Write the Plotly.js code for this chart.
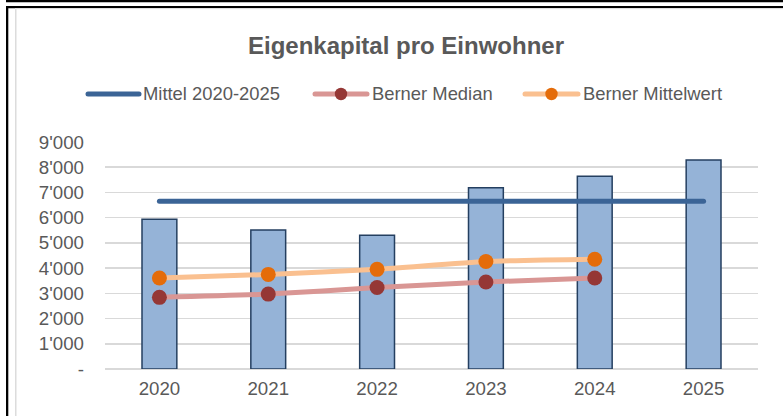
<!DOCTYPE html>
<html>
<head>
<meta charset="utf-8">
<script src="https://cdn.plot.ly/plotly-3.0.1.min.js"></script>
<style>
html,body{margin:0;padding:0;background:#fff;}
#chart{width:783px;height:416px;}
</style>
</head>
<body>
<div id="chart"></div>
<script>
// ---- data ----
const years = ["2020", "2021", "2022", "2023", "2024", "2025"];
const eigenkapital = [5940, 5510, 5300, 7190, 7640, 8290];
const mittel = [6650, 6650, 6650, 6650, 6650, 6650];
const bernerMedian = [2840, 2970, 3230, 3450, 3610];
const bernerMittelwert = [3610, 3750, 3950, 4260, 4350];
const yTickVals = [0, 1000, 2000, 3000, 4000, 5000, 6000, 7000, 8000, 9000];
const yTickText = ["-", "1'000", "2'000", "3'000", "4'000", "5'000", "6'000", "7'000", "8'000", "9'000"];
const seriesNames = ["Mittel 2020-2025", "Berner Median", "Berner Mittelwert"];

// ---- layout geometry ----
const WIDTH = 783, HEIGHT = 416;
const M = {l: 105, r: 25, t: 142, b: 47};
const PW = WIDTH - M.l - M.r, PH = HEIGHT - M.t - M.b;
const px = x => (x - M.l) / PW;
const py = y => (HEIGHT - M.b - y) / PH;

const FONT = '"Liberation Sans", Arial, sans-serif';
const TXT = '#595959';
const C_BAR = '#95B3D7', C_BAR_LINE = '#243F60';
const C_MITTEL = '#3B6496';
const C_MED_LINE = '#D99694', C_MED_MK = '#953735';
const C_MW_LINE = '#FAC090', C_MW_MK = '#E46C0A';

const traces = [
  {
    type: 'bar', x: years, y: eigenkapital, name: 'Eigenkapital',
    marker: {color: C_BAR, line: {color: C_BAR_LINE, width: 1.5}},
    showlegend: false, hoverinfo: 'x+y'
  },
  {
    type: 'scatter', mode: 'lines', x: years, y: mittel, name: seriesNames[0],
    line: {color: C_MITTEL, width: 5}, showlegend: false
  },
  {
    type: 'scatter', mode: 'lines+markers', x: years.slice(0, bernerMedian.length), y: bernerMedian, name: seriesNames[1],
    line: {color: C_MED_LINE, width: 5, shape: 'spline', smoothing: 0.6},
    marker: {color: C_MED_MK, size: 15, line: {width: 0}}, showlegend: false
  },
  {
    type: 'scatter', mode: 'lines+markers', x: years.slice(0, bernerMittelwert.length), y: bernerMittelwert, name: seriesNames[2],
    line: {color: C_MW_LINE, width: 5, shape: 'spline', smoothing: 0.6},
    marker: {color: C_MW_MK, size: 15, line: {width: 0}}, showlegend: false
  }
];

// frame shapes (pixel geometry -> paper)
function rectPx(x0, y0, x1, y1, color) {
  return {type: 'rect', xref: 'paper', yref: 'paper', x0: px(x0), x1: px(x1), y0: py(y1), y1: py(y0),
          fillcolor: color, line: {width: 0}, layer: 'below'};
}
const shapes = [
  rectPx(6, 0, WIDTH, 2.2, '#000'),
  rectPx(6, 6, WIDTH, 8.2, '#000'),
  rectPx(6, 6, 8.3, HEIGHT, '#000'),
  rectPx(15, 8.2, 16.5, HEIGHT, '#DCDCDC'),
  rectPx(15, 8.2, WIDTH, 9.3, '#E6E6E6')
];

// legend (custom, to match symbol lengths)
const legendItems = [
  {x0: 88, x1: 139, tx: 142, line: C_MITTEL, mk: null},
  {x0: 315, x1: 367, tx: 371, line: C_MED_LINE, mk: C_MED_MK},
  {x0: 525, x1: 578, tx: 582, line: C_MW_LINE, mk: C_MW_MK}
];
const LY = 94;
const annotations = [];
legendItems.forEach((it, i) => {
  shapes.push({type: 'line', xref: 'paper', yref: 'paper', x0: px(it.x0), x1: px(it.x1), y0: py(LY), y1: py(LY),
               line: {color: it.line, width: 5}, name: 'legline'});
  if (it.mk) {
    const cx = (it.x0 + it.x1) / 2, r = 6.2;
    shapes.push({type: 'circle', xref: 'paper', yref: 'paper', x0: px(cx - r), x1: px(cx + r), y0: py(LY + r), y1: py(LY - r),
                 fillcolor: it.mk, line: {width: 0}});
  }
  annotations.push({xref: 'paper', yref: 'paper', x: px(it.tx), y: py(LY), xanchor: 'left', yanchor: 'middle',
                    text: seriesNames[i], showarrow: false, borderpad: 0,
                    font: {family: FONT, size: 18.4, color: TXT}});
});

const layout = {
  width: WIDTH, height: HEIGHT,
  margin: M,
  paper_bgcolor: '#fff', plot_bgcolor: '#fff',
  font: {family: FONT, color: TXT},
  title: {text: '<b>Eigenkapital pro Einwohner</b>', xref: 'container', yref: 'container',
          x: 406 / WIDTH, xanchor: 'center', y: 1 - 46 / HEIGHT, yanchor: 'middle',
          font: {family: FONT, size: 24, color: TXT}},
  showlegend: false,
  bargap: 0.68,
  xaxis: {type: 'category', categoryorder: 'array', categoryarray: years,
          showgrid: false, showline: false, zeroline: false, ticks: '',
          tickfont: {family: FONT, size: 18.7, color: TXT}, ticklabelstandoff: 6, fixedrange: true},
  yaxis: {range: [0, 9000], tickvals: yTickVals, ticktext: yTickText,
          showgrid: true, gridcolor: '#D9D9D9', gridwidth: 1.5,
          zeroline: true, zerolinecolor: '#D9D9D9', zerolinewidth: 1.5,
          showline: false, ticks: '',
          tickfont: {family: FONT, size: 18.7, color: TXT}, ticklabelstandoff: 20, fixedrange: true},
  shapes: shapes,
  annotations: annotations
};

Plotly.newPlot('chart', traces, layout, {displayModeBar: false, staticPlot: true}).then(gd => {
  // round line caps like the original
  gd.querySelectorAll('.scatterlayer .js-line').forEach(p => p.style.strokeLinecap = 'round');
  gd.querySelectorAll('.shapelayer path').forEach(p => {
    if (p.getAttribute('fill') === 'none' || p.style.fill === 'none' || p.style.fillOpacity === '0') p.style.strokeLinecap = 'round';
  });
});
</script>
</body>
</html>
